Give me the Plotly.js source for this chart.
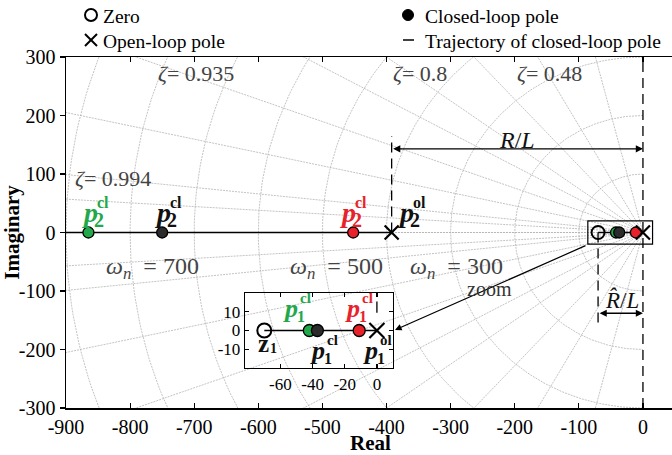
<!DOCTYPE html>
<html>
<head>
<meta charset="utf-8">
<script src="https://cdn.plot.ly/plotly-3.0.1.min.js"></script>
<style>
  html, body { margin: 0; padding: 0; overflow: hidden; background: #fff; }
</style>
</head>
<body>
<div id="chart" style="width:676px;height:455px"></div>
<script>
// ---- pole / zero locations (real parts, rad/s) ----
const zeroZ1 = -70;
const poleOL1 = 0;
const poleOL2 = -392;
const poleCL_green = [-865, -42];   // [p2, p1]
const poleCL_black = [-750, -37];
const poleCL_red   = [-452, -11];
const imagParts    = [0, 0];

// root-locus branches along the real axis
const locusP2 = [-900, -392];
const locusP1 = [-70, 0];

// s-plane grid: damping-ratio rays and natural-frequency circles
const zetaLines = [1, 0.998, 0.994, 0.975, 0.935, 0.87, 0.8, 0.66, 0.48, 0.24];
const wnCircles = [100, 200, 300, 400, 500, 600, 700, 800, 900];

// axis ticks
const xTicks = [-900, -800, -700, -600, -500, -400, -300, -200, -100, 0];
const yTicks = [-300, -200, -100, 0, 100, 200, 300];
const insetXTicks = [-60, -40, -20, 0];
const insetYTicks = [-10, 0, 10];

// region magnified in the inset
const zoomBoxX = [-86, 15];
const zoomBoxY = [-20, 20];
const insetRangeX = [-82, 10];
const insetRangeY = [-20, 20];

// reference line heights
const rlArrowY = 143;
const rlGuideTop = 165;
const rhatArrowY = -138;
const rhatGuideBottom = -155;

const GREEN = '#22a84a';
const RED = '#e8222a';
const DARK = '#2b2b2b';
const GRID = '#b4b4b4';
const SERIF = 'Liberation Serif, Times New Roman, serif';

// page geometry helpers (pixel -> paper)
const W = 676, H = 455, ML = 66, MR = 1, MT = 57, MB = 47;
const PW = W - ML - MR, PH = H - MT - MB;
const px = v => (v - ML) / PW;
const py = v => (H - MB - v) / PH;

// grid geometry
const R = 2000;
const rayX = [], rayY = [];
zetaLines.forEach(z => {
  const s = Math.sqrt(1 - z * z);
  rayX.push(0, -R * z, null, 0, -R * z, null);
  rayY.push(0, R * s, null, 0, -R * s, null);
});
const arcX = [], arcY = [];
wnCircles.forEach(w => {
  for (let a = 90; a <= 270; a += 1) {
    const t = a * Math.PI / 180;
    arcX.push(w * Math.cos(t)); arcY.push(w * Math.sin(t));
  }
  arcX.push(null); arcY.push(null);
});

const gridLine = { color: GRID, width: 0.8, dash: '2px,1px' };
const traces = [
  { x: rayX, y: rayY, mode: 'lines', line: gridLine, hoverinfo: 'skip' },
  { x: arcX, y: arcY, mode: 'lines', line: gridLine, hoverinfo: 'skip' },
  // branches
  { x: locusP2, y: [0, 0], mode: 'lines', line: { color: '#000', width: 1.6 } },
  { x: locusP1, y: [0, 0], mode: 'lines', line: { color: '#000', width: 1.6 } },
  { x: locusP1, y: [0, 0], xaxis: 'x2', yaxis: 'y2', mode: 'lines', line: { color: '#000', width: 1.6 } },
];

function markers(xs, ys, symbol, color, size, lw, ax) {
  const t = {
    x: xs, y: ys, mode: 'markers', cliponaxis: false,
    marker: { symbol: symbol, size: size, color: color, line: { color: '#000', width: lw } }
  };
  if (ax) { t.xaxis = 'x2'; t.yaxis = 'y2'; }
  return t;
}
// main plane
traces.push(markers([zeroZ1], [0], 'circle-open', '#000', 13, 2));
traces.push(markers(poleCL_green, imagParts, 'circle', GREEN, 11, 1.3));
traces.push(markers(poleCL_black, imagParts, 'circle', DARK, 11, 1.3));
traces.push(markers(poleCL_red, imagParts, 'circle', RED, 11, 1.3));
traces.push(markers([poleOL2, poleOL1], [0, 0], 'x-thin-open', '#000', 14, 2.2));
// inset
traces.push(markers([zeroZ1], [0], 'circle-open', '#000', 14, 2, true));
traces.push(markers([poleCL_green[1]], [0], 'circle', GREEN, 12, 1.3, true));
traces.push(markers([poleCL_black[1]], [0], 'circle', DARK, 12, 1.3, true));
traces.push(markers([poleCL_red[1]], [0], 'circle', RED, 12, 1.3, true));
traces.push(markers([poleOL1], [0], 'x-thin-open', '#000', 15, 2.2, true));

// ---- annotations ----
const ann = [];
function txt(text, xPix, yPix, size, color, anchor) {
  ann.push({
    text: text, xref: 'paper', yref: 'paper', x: px(xPix), y: py(yPix),
    xanchor: anchor || 'left', yanchor: 'middle', showarrow: false, borderpad: 0,
    font: { family: SERIF, size: size, color: color || '#000' }
  });
}
// place text by its baseline (serif metrics: box centre sits ~0.34em above baseline)
function txtB(text, xPix, basePix, size, color, anchor) {
  txt(text, xPix, basePix - 0.34 * size, size, color, anchor);
}
// legend
txt('Zero', 102, 16, 19.5);
txt('Open-loop pole', 102, 41, 19.5);
txt('Closed-loop pole', 424, 16, 19.5);
txt('Trajectory of closed-loop pole', 424, 41, 19.5);

// damping ratio and natural frequency labels
const gtxt = '#444';
txt('<i>ζ</i>= 0.935', 157, 73, 22, gtxt);
txt('<i>ζ</i>= 0.8', 392, 73, 22, gtxt);
txt('<i>ζ</i>= 0.48', 516, 73, 22, gtxt);
txt('<i>ζ</i>= 0.994', 74, 178, 22, gtxt);
txt('<i>ω<sub>n</sub></i>\u00a0 = 700', 105, 268, 24, gtxt);
txt('<i>ω<sub>n</sub></i>\u00a0 = 500', 289, 268, 24, gtxt);
txt('<i>ω<sub>n</sub></i>\u00a0 = 300', 409, 268, 24, gtxt);

// pole labels: p, subscript and superscript stacked
function poleLabel(sub, sup, x0, base, color, big) {
  const sP = big ? 28 : 26, sS = big ? 20 : 16, sU = big ? 16 : 15;
  const dx = big ? 12 : 14;
  txtB('<b><i>p</i></b>', x0, base, sP, color);
  txtB('<b>' + sub + '</b>', x0 + dx, base + 5, sS, color);
  txtB('<b>' + sup + '</b>', x0 + dx + 3, base - 14, sU, color);
}
poleLabel('2', 'cl', 81, 222, GREEN, true);
poleLabel('2', 'cl', 154, 222, '#111', true);
poleLabel('2', 'cl', 339, 222, RED, true);
poleLabel('2', 'ol', 397, 222, '#111', true);
// inset labels
poleLabel('1', 'cl', 282, 317, GREEN, false);
poleLabel('1', 'cl', 344, 317, RED, false);
poleLabel('1', 'cl', 309, 359, '#111', false);
poleLabel('1', 'ol', 362, 359, '#111', false);
txtB('<b>z</b>', 257, 352, 25, '#111');
txtB('<b>1</b>', 269, 353, 14, '#111');

// R/L and R^/L dimension arrows
const dimArrow = (x0, x1, y) => ({
  x: x1, y: y, ax: x0, ay: y, xref: 'x', yref: 'y', axref: 'x', ayref: 'y',
  text: '', showarrow: true, arrowhead: 2, startarrowhead: 2, arrowside: 'end+start',
  arrowsize: 1.1, startarrowsize: 1.1, arrowwidth: 1.3, arrowcolor: '#000', standoff: 0, startstandoff: 0
});
ann.push(dimArrow(poleOL2, poleOL1, rlArrowY));
ann.push(dimArrow(zeroZ1, poleOL1, rhatArrowY));
txt('<i>R</i>/<i>L</i>', 517, 140, 24, '#111', 'center');
txt('<i>R̂</i>/<i>L</i>', 622, 300, 23, '#111', 'center');

// zoom pointer
ann.push({
  x: px(395), y: py(330), xref: 'paper', yref: 'paper',
  ax: 192, ay: -85, text: '', showarrow: true, arrowhead: 2, arrowsize: 1.1,
  arrowwidth: 1.2, arrowcolor: '#000', standoff: 0
});
txt('zoom', 489, 289, 20, '#333', 'center');

// ---- shapes ----
const shapes = [];
const dashed = { color: '#000', width: 1.3, dash: '10px,6px' };
shapes.push({ type: 'line', xref: 'x', yref: 'paper', x0: poleOL1, x1: poleOL1, y0: 0, y1: 1, line: dashed });
shapes.push({ type: 'line', xref: 'x', yref: 'y', x0: poleOL2, x1: poleOL2, y0: 0, y1: rlGuideTop, line: dashed });
shapes.push({ type: 'line', xref: 'x', yref: 'y', x0: zeroZ1, x1: zeroZ1, y0: 0, y1: rhatGuideBottom, line: dashed });
shapes.push({ type: 'line', xref: 'x2', yref: 'y2', x0: poleOL1, x1: poleOL1, y0: 15.5, y1: 9.5, line: { color: '#000', width: 1.3 } });
// magnified region outline
shapes.push({ type: 'rect', xref: 'x', yref: 'y', x0: zoomBoxX[0], x1: zoomBoxX[1], y0: zoomBoxY[0], y1: zoomBoxY[1], line: { color: '#000', width: 1.2 } });

// legend glyphs
const pixShape = (type, xPix, yPix, x0, x1, y0, y1, line, fill) => ({
  type: type, xref: 'paper', yref: 'paper', xsizemode: 'pixel', ysizemode: 'pixel',
  xanchor: px(xPix), yanchor: py(yPix), x0: x0, x1: x1, y0: y0, y1: y1,
  line: line, fillcolor: fill || 'rgba(0,0,0,0)'
});
shapes.push(pixShape('circle', 91, 15, -6, 6, -6, 6, { color: '#000', width: 2 }));
shapes.push(pixShape('line', 91, 40, -6, 6, -6, 6, { color: '#000', width: 2 }));
shapes.push(pixShape('line', 91, 40, -6, 6, 6, -6, { color: '#000', width: 2 }));
shapes.push(pixShape('circle', 408, 15, -5.5, 5.5, -5.5, 5.5, { color: '#000', width: 1 }, '#000'));
shapes.push({ type: 'line', xref: 'paper', yref: 'paper', x0: px(403), x1: px(414), y0: py(40), y1: py(40), line: { color: '#000', width: 1.5 } });

const mainTickFont = () => ({ family: SERIF, size: 20, color: '#000' });
const insetTickFont = () => ({ family: SERIF, size: 17, color: '#000' });
const axisCommon = () => ({
  showgrid: false, zeroline: false, showline: true, linecolor: '#000', linewidth: 1.5,
  tickcolor: '#000', tickwidth: 1.2
});

const layout = {
  width: W, height: H,
  margin: { l: ML, r: MR, t: MT, b: MB },
  paper_bgcolor: '#fff', plot_bgcolor: 'rgba(0,0,0,0)',
  showlegend: false,
  font: { family: SERIF, size: 20, color: '#000' },
  xaxis: Object.assign(axisCommon(), {
    range: [-900, 50], tickvals: xTicks, ticktext: xTicks.map(String), tickfont: mainTickFont(),
    ticks: 'inside', ticklen: 5, mirror: 'ticks',
    title: { text: '<b>Real</b>', standoff: 2, font: { family: SERIF, size: 21 } }
  }),
  yaxis: Object.assign(axisCommon(), {
    range: [-300, 300], tickvals: yTicks, ticktext: yTicks.map(String), tickfont: mainTickFont(),
    ticks: 'outside', ticklen: 5, mirror: true,
    title: { text: '<b>Imaginary</b>', standoff: 2, font: { family: SERIF, size: 21 } }
  }),
  yaxis3: {
    overlaying: 'y', side: 'right', anchor: 'x', range: [-300, 300], tickvals: yTicks,
    ticks: 'inside', ticklen: 5, tickwidth: 1.2, tickcolor: '#000', showticklabels: false,
    showgrid: false, zeroline: false, showline: false
  },
  xaxis2: Object.assign(axisCommon(), {
    domain: [px(245), px(393)], anchor: 'y2', range: insetRangeX,
    tickvals: insetXTicks, ticktext: insetXTicks.map(String), tickfont: insetTickFont(),
    ticks: 'inside', ticklen: 4, mirror: 'ticks', linewidth: 1.3
  }),
  yaxis2: Object.assign(axisCommon(), {
    domain: [py(368), py(293)], anchor: 'x2', range: insetRangeY,
    tickvals: insetYTicks, ticktext: insetYTicks.map(String), tickfont: insetTickFont(),
    ticks: 'inside', ticklen: 4, mirror: 'ticks', linewidth: 1.3
  }),
  annotations: ann,
  shapes: shapes
};

Plotly.newPlot('chart', traces, layout, { displayModeBar: false, staticPlot: true });
</script>
</body>
</html>
